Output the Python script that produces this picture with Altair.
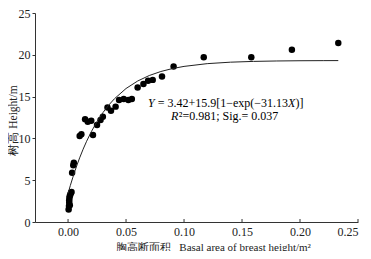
import altair as alt
import pandas as pd

# scatter data
basal_area = [0.0005, 0.0008, 0.0010, 0.0010, 0.0012, 0.0015, 0.0020, 0.0025, 0.0030, 0.0015,
              0.0035, 0.0045, 0.0050,
              0.0100, 0.0115, 0.0215,
              0.0147, 0.0170, 0.0200, 0.0250, 0.0280, 0.0300, 0.0340, 0.0370, 0.0410,
              0.0440, 0.0480, 0.0520, 0.0550, 0.0600, 0.0650, 0.0690, 0.0730, 0.0810,
              0.0910, 0.1170, 0.1580, 0.1930, 0.2330]
height = [1.5, 1.9, 2.3, 2.6, 2.9, 3.1, 3.3, 3.5, 3.6, 2.0,
          5.9, 6.8, 7.1,
          10.3, 10.5, 10.4,
          12.3, 12.0, 12.1, 11.6, 12.2, 12.6, 13.7, 13.3, 13.8,
          14.6, 14.7, 14.6, 14.7, 16.1, 16.5, 16.9, 17.0, 17.4,
          18.6, 19.7, 19.7, 20.6, 21.4]

# fitted model printed on the chart: Y = a + b[1 - exp(-c X)]
fit_a, fit_b, fit_c = 3.42, 15.9, 31.13
fit_x = [0.0, 0.002, 0.004, 0.006, 0.008, 0.010, 0.013, 0.016, 0.020, 0.025, 0.030,
         0.035, 0.040, 0.050, 0.060, 0.070, 0.080, 0.090, 0.100, 0.120, 0.140,
         0.160, 0.180, 0.200, 0.220, 0.233]

x_ticks = [0.0, 0.05, 0.10, 0.15, 0.20, 0.25]
y_ticks = [0, 5, 10, 15, 20, 25]

serif = "Liberation Serif"

pts = pd.DataFrame({"x": basal_area, "y": height})
fit = pd.DataFrame({"x": fit_x})
ticks = pd.DataFrame({"x": x_ticks})

xscale = alt.Scale(domain=[-0.0285, 0.25], nice=False)
yscale = alt.Scale(domain=[0, 25], nice=False)

H = 209

xaxis = alt.Axis(values=x_ticks, format=".2f", tickSize=0, labelPadding=4,
                 title="胸高断面积\u2002 Basal area of breast height/m²",
                 titleX=178, titlePadding=4, titleFontSize=11)
yaxis = alt.Axis(values=y_ticks, tickSize=3, labelPadding=2,
                 title="树高 Height/m", titleX=-22, titleY=107, titleBaseline="middle",
                 titleFontSize=11.5)

scatter = alt.Chart(pts).mark_circle(size=42, color="black", opacity=1).encode(
    x=alt.X("x:Q", scale=xscale, axis=xaxis),
    y=alt.Y("y:Q", scale=yscale, axis=yaxis),
)

curve = alt.Chart(fit).transform_calculate(
    y=f"{fit_a} + {fit_b} * (1 - exp(-{fit_c} * datum.x))"
).mark_line(color="#222222", strokeWidth=1).encode(
    x=alt.X("x:Q", scale=xscale),
    y=alt.Y("y:Q", scale=yscale),
)

xtick_marks = alt.Chart(ticks).mark_rule(color="#333333", strokeWidth=1).encode(
    x=alt.X("x:Q", scale=xscale),
    y=alt.value(H - 3),
    y2=alt.value(H),
)

def txt(s, x, y, size=12, style="normal"):
    return alt.Chart(pd.DataFrame({"t": [s]})).mark_text(
        font=serif, fontSize=size, fontStyle=style, align="left",
        baseline="middle", color="black"
    ).encode(text="t:N", x=alt.value(x), y=alt.value(y))

line1_y = 90
line2_y = 103
annot = [
    txt("Y", 113, line1_y, style="italic"),
    txt("= 3.42+15.9[1−exp(−31.13", 122.7, line1_y),
    txt("X", 253.1, line1_y, style="italic"),
    txt(")]", 260.4, line1_y),
    txt("R", 136, line2_y, style="italic"),
    txt("²=0.981; Sig.= 0.037", 143.8, line2_y),
]

chart = alt.layer(scatter, curve, xtick_marks, *annot).properties(
    width=323, height=H,
    autosize=alt.AutoSizeParams(type="none"),
    padding={"left": 27, "top": 5, "right": 5, "bottom": 29},
).configure_view(stroke=None).configure_axis(
    grid=False, domainColor="#333333", tickColor="#333333",
    labelFont=serif, labelFontSize=12, labelColor="#222222",
    titleFont=serif, titleFontWeight="normal", titleColor="#222222",
)

chart.save("out.html", embed_options={"renderer": "svg", "actions": False})
